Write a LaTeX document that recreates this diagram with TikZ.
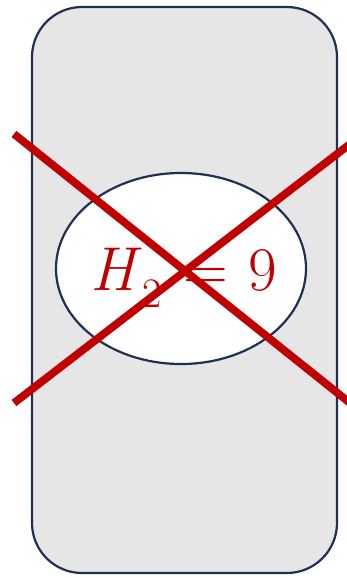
\documentclass[tikz,border=0pt]{standalone}
\usepackage{xcolor}
\usepackage{tikz}
\usetikzlibrary{shapes.geometric}
\definecolor{cardnavy}{RGB}{31, 48, 84}
\definecolor{cardgray}{RGB}{230,230,230}
\definecolor{crossred}{RGB}{192,  0,  0}
\newcommand{\subtwo}{\raisebox{-0.28em}{\fontsize{42}{42}\selectfont 2}}
\tikzset{
  card/.style={draw=cardnavy,fill=cardgray,line width=2.2pt,
               rounded corners=50pt,inner sep=0pt,
               minimum width=305pt,minimum height=566pt},
  oval/.style={ellipse,draw=cardnavy,fill=white,line width=2.2pt,
               inner sep=0pt,minimum width=250pt,minimum height=191pt},
  val/.style={text=crossred,font=\fontsize{62}{62}\selectfont,inner sep=0pt},
  cross/.style={line width=7.8pt,color=crossred},
}
\begin{document}
\begin{tikzpicture}[x=1pt,y=-1pt]
  \useasboundingbox (0,0) rectangle (346,578);
  \node[card](box) at (184.5,290) {};
  \node[oval](ring) at (181,268.5) {};
  \node[val,anchor=base](eq) at (183.5,290) {\textit{H}\kern1pt\subtwo\kern22pt=\kern20pt9};

  \coordinate (ul) at (14,134);
  \coordinate (lr) at (350,403);
  \coordinate (ll) at (14,403);
  \coordinate (ur) at (350,144);
  \draw[cross](ul) -- (lr);
  \draw[cross](ll) -- (ur);
\end{tikzpicture}
\end{document}
